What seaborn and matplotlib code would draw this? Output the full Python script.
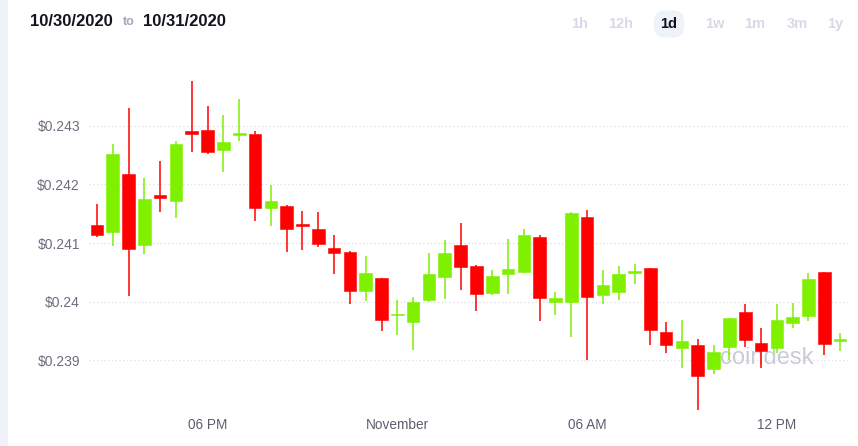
import numpy as np
import pandas as pd
import matplotlib
matplotlib.use("Agg")
import matplotlib.pyplot as plt
import seaborn as sns

# ---- data ----
open_ = [0.241302, 0.241194, 0.242179, 0.240966, 0.241815, 0.241712, 0.242915, 0.242926,
         0.242590, 0.242846, 0.242869, 0.241593, 0.241638, 0.241325, 0.241239, 0.240909,
         0.240840, 0.240174, 0.240402, 0.239764, 0.239650, 0.240031, 0.240413, 0.240966,
         0.240607, 0.240145, 0.240470, 0.240499, 0.241108, 0.239986, 0.239997, 0.241439,
         0.240111, 0.240168, 0.240493, 0.240573, 0.239484, 0.239199, 0.239262, 0.238846,
         0.239217, 0.239815, 0.239296, 0.239205, 0.239632, 0.239752, 0.240499, 0.239325]
high = [0.241672, 0.242698, 0.243313, 0.242117, 0.242402, 0.242749, 0.243775, 0.243342,
        0.243194, 0.243467, 0.242920, 0.241997, 0.241650, 0.241553, 0.241536, 0.241137,
        0.240863, 0.240778, 0.240407, 0.240031, 0.240083, 0.240835, 0.241057, 0.241336,
        0.240618, 0.240538, 0.241074, 0.241239, 0.241137, 0.240162, 0.241536, 0.241570,
        0.240538, 0.240613, 0.240641, 0.240578, 0.239650, 0.239689, 0.239365, 0.239262,
        0.239718, 0.239957, 0.239547, 0.239963, 0.239974, 0.240493, 0.240504, 0.239462]
low = [0.241097, 0.240943, 0.240088, 0.240818, 0.241530, 0.241422, 0.242550, 0.242516,
       0.242214, 0.242738, 0.241370, 0.241285, 0.240840, 0.240886, 0.240926, 0.240470,
       0.239952, 0.240014, 0.239501, 0.239422, 0.239171, 0.239986, 0.240043, 0.240197,
       0.239843, 0.240117, 0.240125, 0.240487, 0.239672, 0.239764, 0.239387, 0.239006,
       0.239957, 0.240020, 0.240305, 0.239251, 0.239125, 0.238863, 0.238151, 0.238766,
       0.239006, 0.239217, 0.238863, 0.239120, 0.239547, 0.239672, 0.239083, 0.239148]
close = [0.241131, 0.242527, 0.240903, 0.241758, 0.241769, 0.242692, 0.242869, 0.242550,
         0.242721, 0.242875, 0.241593, 0.241712, 0.241245, 0.241291, 0.240983, 0.240835,
         0.240174, 0.240487, 0.239684, 0.239786, 0.239991, 0.240470, 0.240829, 0.240584,
         0.240128, 0.240442, 0.240550, 0.241142, 0.240054, 0.240066, 0.241513, 0.240080,
         0.240282, 0.240464, 0.240516, 0.239519, 0.239262, 0.239325, 0.238732, 0.239142,
         0.239712, 0.239342, 0.239148, 0.239689, 0.239741, 0.240390, 0.239268, 0.239359]

x_tick_pos = [7, 19, 31, 43]
x_tick_labels = ["06 PM", "November", "06 AM", "12 PM"]
y_ticks = [0.239, 0.240, 0.241, 0.242, 0.243]
y_tick_labels = ["$0.239", "$0.24", "$0.241", "$0.242", "$0.243"]
range_buttons = ["1h", "12h", "1d", "1w", "1m", "3m", "1y"]

df = pd.DataFrame({"open": open_, "high": high, "low": low, "close": close})
df["idx"] = np.arange(len(df))
df["up"] = df["close"] >= df["open"]

GREEN = "#7ff000"
RED = "#ff0000"

sns.set_theme(style="white")
plt.rcParams["font.family"] = ["Liberation Sans", "DejaVu Sans"]

W, H = 858, 446
fig = plt.figure(figsize=(W / 100, H / 100), dpi=100)
fig.patch.set_facecolor("white")

def fx(px):
    return px / W

def fy(py):
    return 1 - py / H

# left light strip
fig.patches.append(plt.Rectangle((0, 0), fx(8), 1, transform=fig.transFigure,
                                 facecolor="#eff2f8", edgecolor="none", zorder=0))

ax = fig.add_axes([fx(89), fy(414), fx(848) - fx(89), fy(72) - fy(414)])
ax.set_facecolor("white")

colors = np.where(df["up"], GREEN, RED)
# wicks
ax.vlines(df["idx"], df["low"], df["high"], colors=colors, linewidth=1.1, zorder=3)
# bodies
bottoms = np.minimum(df["open"], df["close"])
heights = np.maximum(np.abs(df["close"] - df["open"]), 0.00003)
ax.bar(df["idx"], heights, bottom=bottoms, width=0.8, color=colors,
       edgecolor=colors, linewidth=0.4, zorder=4)

ax.set_xlim(-0.5, len(df) - 0.5)
ax.set_ylim(0.238077, 0.243923)
ax.set_yticks(y_ticks)
ax.set_yticklabels(y_tick_labels)
ax.set_xticks(x_tick_pos)
ax.set_xticklabels(x_tick_labels)
ax.tick_params(axis="y", length=0, pad=6.5, labelsize=10, labelcolor="#6b6e7c")
ax.tick_params(axis="x", length=0, pad=3, labelsize=9.8, labelcolor="#5c5f6e")
for s in ax.spines.values():
    s.set_visible(False)
ax.grid(False)
for yv in y_ticks:
    ax.axhline(yv, color="#dcdfe8", linewidth=0.9, linestyle=(0, (1, 2)), zorder=1)

# watermark
ax.text(0.832, 0.165, "coindesk", transform=ax.transAxes, fontsize=17,
        color="#c9ccd6", ha="left", va="center", zorder=2)

# header
fig.text(fx(30), fy(21), "10/30/2020", fontsize=12, fontweight="bold",
         color="#14141f", ha="left", va="center")
fig.text(fx(129), fy(22), "to", fontsize=9, fontweight="bold",
         color="#a3a7b6", ha="center", va="center")
fig.text(fx(143), fy(21), "10/31/2020", fontsize=12, fontweight="bold",
         color="#14141f", ha="left", va="center")

btn_x = [580, 621, 669, 715, 755, 797, 835]
for lab, bx in zip(range_buttons, btn_x):
    if lab == "1d":
        fig.text(fx(bx), fy(24), lab, fontsize=10.5, fontweight="bold",
                 color="#111118", ha="center", va="center",
                 bbox=dict(boxstyle="round,pad=0.45,rounding_size=0.8",
                           facecolor="#eef2f9", edgecolor="none"))
    else:
        fig.text(fx(bx), fy(24), lab, fontsize=10.5, fontweight="bold",
                 color="#d6dae6", ha="center", va="center")

fig.savefig("out.png", dpi=100)
